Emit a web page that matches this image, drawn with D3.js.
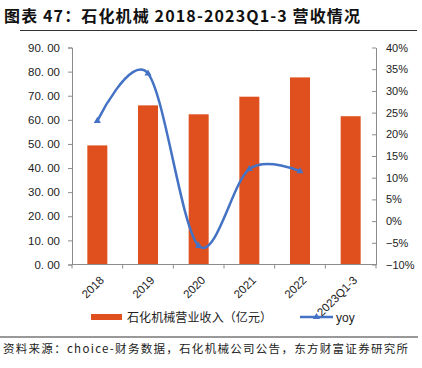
<!DOCTYPE html>
<html>
<head>
<meta charset="utf-8">
<script src="https://cdn.jsdelivr.net/npm/d3@7/dist/d3.min.js"></script>
<style>
  body { margin: 0; background: #fff; }
  text { font-family: "Liberation Sans", Arial, sans-serif; }
  .cjk { font-family: "Noto Sans CJK SC", sans-serif; }
</style>
</head>
<body>
<svg id="chart" width="422" height="368"></svg>
<script>
const categories = ["2018", "2019", "2020", "2021", "2022", "2023Q1-3"];
const revenue = [49.4, 66.0, 62.3, 69.6, 77.6, 61.5];
const yoy = [23.1, 34.0, -5.7, 12.0, 11.5];
const leftTicks = [0, 10, 20, 30, 40, 50, 60, 70, 80, 90];
const rightTicks = [-10, -5, 0, 5, 10, 15, 20, 25, 30, 35, 40];

const svg = d3.select("#chart");
const margin = {left: 72, right: 46, top: 47.5, bottom: 103.5};
const width = +svg.attr("width"), height = +svg.attr("height");
const axisColor = "#8c8c8c";

// title
svg.append("text")
  .attr("class", "cjk")
  .attr("x", 4).attr("y", 22)
  .attr("font-size", 16).attr("font-weight", "bold")
  .attr("fill", "#111")
  .attr("textLength", 356).attr("lengthAdjust", "spacing")
  .text("图表 47：石化机械 2018-2023Q1-3 营收情况");
svg.append("line")
  .attr("x1", 20).attr("x2", 417).attr("y1", 30.5).attr("y2", 30.5)
  .attr("stroke", "#333").attr("stroke-width", 1);

const x = d3.scaleBand()
  .domain(categories)
  .range([margin.left, width - margin.right]);

const y = d3.scaleLinear()
  .domain([0, 90])
  .range([height - margin.bottom, margin.top]);

const y2 = d3.scaleLinear()
  .domain([-10, 40])
  .range([height - margin.bottom, margin.top]);

// bars
svg.append("g")
  .selectAll("rect")
  .data(revenue)
  .enter().append("rect")
  .attr("x", (d, i) => x(categories[i]) + x.bandwidth() / 2 - 10)
  .attr("width", 20)
  .attr("y", d => y(d))
  .attr("height", d => y(0) - y(d))
  .attr("fill", "#E0501F");

// left axis
const gl = svg.append("g")
  .attr("transform", `translate(${margin.left}, 0)`)
  .call(d3.axisLeft(y).tickValues(leftTicks).tickSize(4).tickPadding(8)
    .tickFormat(d => d3.format(".2f")(d).replace(".", ". ")));
gl.select(".domain").attr("stroke", axisColor);
gl.selectAll(".tick line").attr("stroke", axisColor);
gl.selectAll(".tick text").attr("font-size", 11.5).attr("fill", "#222");

// right axis
const gr = svg.append("g")
  .attr("transform", `translate(${width - margin.right}, 0)`)
  .call(d3.axisRight(y2).tickValues(rightTicks).tickSizeInner(-4).tickSizeOuter(0).tickPadding(10)
    .tickFormat(d => (d < 0 ? "\u2212" + Math.abs(d) : d) + "%"));
gr.select(".domain").attr("stroke", axisColor);
gr.selectAll(".tick line").attr("stroke", axisColor);
gr.selectAll(".tick text").attr("font-size", 11).attr("fill", "#222");

// bottom axis
const base = y(0);
svg.append("line")
  .attr("x1", margin.left).attr("x2", width - margin.right)
  .attr("y1", base).attr("y2", base)
  .attr("stroke", axisColor);
const bounds = categories.map(c => x(c)).concat([x.range()[1]]);
svg.append("g").selectAll("line")
  .data(bounds)
  .enter().append("line")
  .attr("x1", d => d).attr("x2", d => d)
  .attr("y1", base).attr("y2", base + 4)
  .attr("stroke", axisColor);
svg.append("g").selectAll("text")
  .data(categories)
  .enter().append("text")
  .attr("transform", d => `translate(${x(d) + x.bandwidth() / 2 + 1.5}, ${base + 10.5}) rotate(-45)`)
  .attr("text-anchor", "end")
  .attr("dy", "0.72em")
  .attr("font-size", 11.5)
  .attr("fill", "#222")
  .text(d => d);

// yoy smooth line
const lineData = yoy.map((v, i) => ({c: categories[i], v: v}));
const line = d3.line()
  .x(d => x(d.c) + x.bandwidth() / 2)
  .y(d => y2(d.v))
  .curve(d3.curveCardinal.tension(0));
svg.append("path")
  .datum(lineData)
  .attr("fill", "none")
  .attr("stroke", "#4472C4")
  .attr("stroke-width", 2.5)
  .attr("stroke-linecap", "round")
  .attr("d", line);
const tri = d3.symbol().type(d3.symbolTriangle).size(22);
svg.append("g").selectAll("path")
  .data(lineData)
  .enter().append("path")
  .attr("transform", d => `translate(${x(d.c) + x.bandwidth() / 2}, ${y2(d.v)})`)
  .attr("d", tri)
  .attr("fill", "#4472C4");

// legend
const ly = 317;
svg.append("rect")
  .attr("x", 91).attr("y", ly - 3).attr("width", 31).attr("height", 6)
  .attr("fill", "#E0501F");
svg.append("text")
  .attr("class", "cjk")
  .attr("x", 127).attr("y", ly + 4.5)
  .attr("font-size", 12).attr("fill", "#222")
  .attr("textLength", 145).attr("lengthAdjust", "spacing")
  .text("石化机械营业收入（亿元）");
svg.append("line")
  .attr("x1", 300).attr("x2", 333).attr("y1", ly).attr("y2", ly)
  .attr("stroke", "#4472C4").attr("stroke-width", 2.5);
svg.append("path")
  .attr("transform", `translate(316.5, ${ly})`)
  .attr("d", tri)
  .attr("fill", "#4472C4");
svg.append("text")
  .attr("x", 336).attr("y", ly + 4.5)
  .attr("font-size", 12).attr("fill", "#222")
  .text("yoy");

// source
svg.append("line")
  .attr("x1", 0).attr("x2", 418).attr("y1", 337).attr("y2", 337)
  .attr("stroke", "#333").attr("stroke-width", 1);
svg.append("text")
  .attr("class", "cjk")
  .attr("x", 3).attr("y", 353)
  .attr("font-size", 11.5).attr("fill", "#222")
  .attr("textLength", 405).attr("lengthAdjust", "spacing")
  .text("资料来源：choice-财务数据，石化机械公司公告，东方财富证券研究所");
</script>
</body>
</html>
